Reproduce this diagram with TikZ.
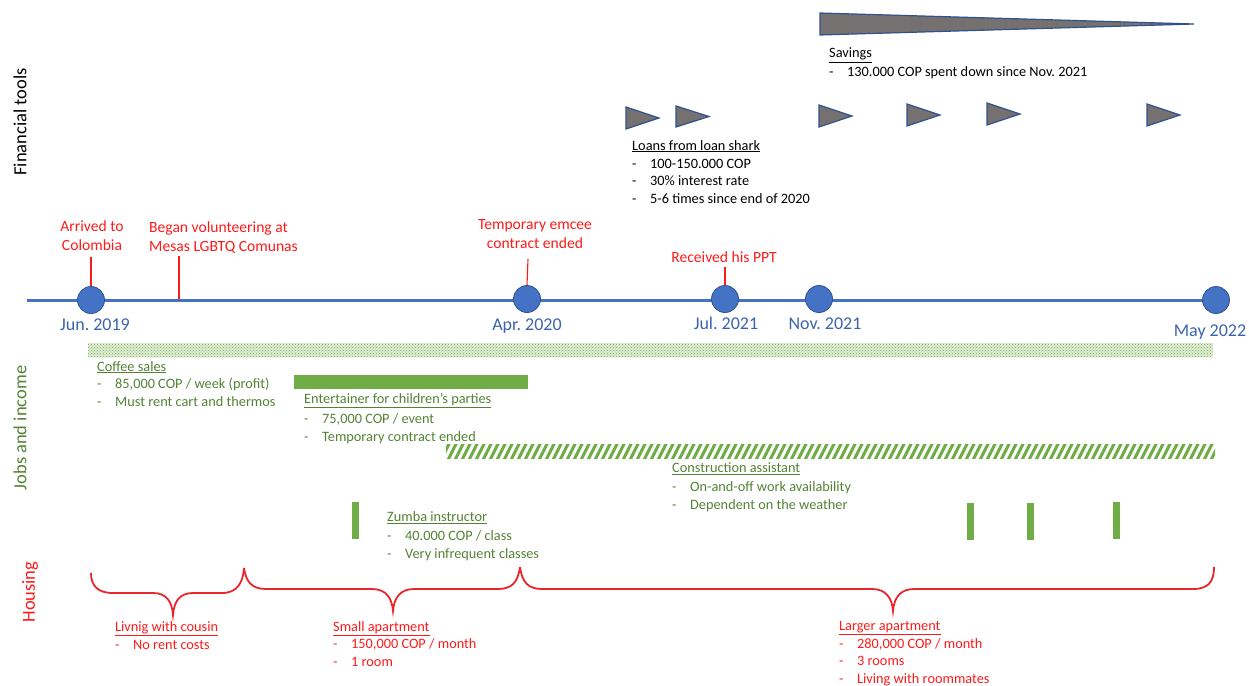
\documentclass[tikz,border=0pt]{standalone}
\usepackage{fontspec}
\setmainfont{Carlito}
\usetikzlibrary{patterns}
\definecolor{tlblue}{HTML}{4472C4}
\definecolor{dkblue}{HTML}{2F528F}
\definecolor{datblue}{HTML}{3B64AD}
\definecolor{ered}{HTML}{FF1A1A}
\definecolor{hred}{HTML}{E8262B}
\definecolor{gtext}{HTML}{548235}
\definecolor{gbar}{HTML}{70AD47}
\definecolor{sgray}{HTML}{767171}
\newcommand\lsitem[1]{\makebox[18pt][l]{-}#1}
\frenchspacing
\begin{document}
\begin{tikzpicture}[x=1pt,y=-1pt,
  lbl/.style={inner sep=0, anchor=base west, align=left, font=\fontsize{14.3}{17.5}\selectfont},
  evt/.style={inner sep=0, anchor=base, align=center, text=ered, font=\fontsize{15.6}{19}\selectfont},
  datelbl/.style={inner sep=0, anchor=base, text=datblue, font=\fontsize{18}{21}\selectfont},
  tdot/.style={circle, fill=tlblue, draw=dkblue, line width=0.8pt, minimum size=27pt, inner sep=0},
  axislbl/.style={rotate=90, inner sep=0, font=\fontsize{18.5}{21}\selectfont},
  loan/.style={fill=sgray, draw=dkblue, line width=1.2pt, line join=miter},
  tickline/.style={draw=ered, line width=1.1pt},
  bracep/.style={draw=hred, line width=1.8pt},
  gbarsolid/.style={fill=gbar, draw=none}]
\useasboundingbox (0,0) rectangle (1249,685);

% axis labels
\node[axislbl] (axfin) at (20,122) {Financial tools};
\node[axislbl, text=gtext] (axjob) at (20,428) {Jobs and income};
\node[axislbl, text=ered] (axhou) at (30,592) {Housing};

% savings wedge
\draw[loan] (820,13) -- (1194,24) -- (820,35) -- cycle;
\node[lbl] (sav) at (829,77) {\underline{Savings}\\[1.5pt]\lsitem{130.000 COP spent down since Nov. 2021}};

% loan triangles
\foreach \lx/\ty/\by in {626/107/129, 676/106/127, 819/105/127, 907/104/126, 987/103/125, 1147/104/126}{
  \draw[loan] (\lx,\ty) -- (\lx+33,{(\ty+\by)/2}) -- (\lx,\by) -- cycle;
}
\node[lbl] (loans) at (632,203) {\underline{Loans from loan shark}\\[0.5pt]\lsitem{100-150.000 COP}\\\lsitem{30\% interest rate}\\\lsitem{5-6 times since end of 2020}};

% timeline
\coordinate (tls) at (27,300);
\coordinate (tle) at (1215,300);
\draw[tlblue, line width=3pt] (tls) -- (tle);
\node[tdot] (c1) at (91,300) {};
\node[tdot] (c2) at (527,299) {};
\node[tdot] (c3) at (725,299) {};
\node[tdot] (c4) at (819,299) {};
\node[tdot] (c5) at (1216,300) {};

% event ticks
\coordinate (t1) at (91,257);
\coordinate (v0) at (179,299);
\coordinate (v1) at (179,256);
\coordinate (t2) at (528,259);
\coordinate (t3) at (725,267);
\draw[tickline] (c1.north) -- (t1);
\draw[tickline] (v0) -- (v1);
\draw[tickline] (c2.north) -- (t2);
\draw[tickline] (c3.north) -- (t3);

\node[evt] (e1) at (92,250) {Arrived to\\Colombia};
\node[evt, anchor=base west, align=left] (e2) at (149,251) {Began volunteering at\\Mesas LGBTQ Comunas};
\node[evt] (e3) at (535,248) {Temporary emcee\\contract ended};
\node[evt] (e4) at (724,262) {Received his PPT};

\node[datelbl] (d1) at (95,330) {Jun. 2019};
\node[datelbl] (d2) at (527,330) {Apr. 2020};
\node[datelbl] (d3) at (726,329) {Jul. 2021};
\node[datelbl] (d4) at (825,329) {Nov. 2021};
\node[datelbl] (d5) at (1210,336) {May 2022};

% jobs
\fill[gbar!22] (88,343) rectangle (1213,357);
\fill[pattern=crosshatch dots, pattern color=gbar] (88,343) rectangle (1213,357);
\node[lbl, text=gtext] (coffee) at (97,406) {\underline{Coffee sales}\\[0pt]\lsitem{85,000 COP / week (profit)}\\\lsitem{Must rent cart and thermos}};

\fill[gbarsolid] (294,375) rectangle (528,389);
\node[lbl, text=gtext] (ent) at (304,441) {\underline{Entertainer for children’s parties}\\[2.5pt]\lsitem{75,000 COP / event}\\\lsitem{Temporary contract ended}};

\begin{scope}
  \clip (446,444) rectangle (1215,458);
  \foreach \i in {434,441,...,1222}{
    \draw[gbar, line width=3pt] (\i,460) -- (\i+9,442);
  }
\end{scope}
\node[lbl, text=gtext] (cons) at (672,509) {\underline{Construction assistant}\\[1.5pt]\lsitem{On-and-off work availability}\\\lsitem{Dependent on the weather}};

\fill[gbarsolid] (352,502) rectangle (359,539);
\fill[gbarsolid] (967,503) rectangle (974,540);
\fill[gbarsolid] (1027,503) rectangle (1034,540);
\fill[gbarsolid] (1113,502) rectangle (1120,539);
\node[lbl, text=gtext] (zumba) at (387,558) {\underline{Zumba instructor}\\[1.5pt]\lsitem{40.000 COP / class}\\\lsitem{Very infrequent classes}};

% housing braces
\draw[bracep] (91,573) .. controls (91,586) and (98,593) .. (113,593) -- (153,593)
  .. controls (166,593) and (172,601) .. (173,615)
  .. controls (174,601) and (180,593) .. (193,593) -- (222,593)
  .. controls (237,593) and (243,583) .. (244,568);
\draw[bracep] (244,568) .. controls (246,582) and (252,589) .. (266,589) -- (372,589)
  .. controls (386,589) and (392,598) .. (393,611)
  .. controls (394,598) and (400,589) .. (414,589) -- (498,589)
  .. controls (512,589) and (518,582) .. (520,567);
\draw[bracep] (520,567) .. controls (522,582) and (528,589) .. (542,589) -- (872,589)
  .. controls (886,589) and (892,598) .. (893,611)
  .. controls (894,598) and (900,589) .. (914,589) -- (1193,589)
  .. controls (1208,589) and (1214,582) .. (1214,567);

\node[lbl, text=ered] (h1) at (115,649) {\underline{Livnig with cousin}\\\lsitem{No rent costs}};
\node[lbl, text=ered] (h2) at (333,666) {\underline{Small apartment}\\\lsitem{150,000 COP / month}\\\lsitem{1 room}};
\node[lbl, text=ered] (h3) at (839,683) {\underline{Larger apartment}\\\lsitem{280,000 COP / month}\\\lsitem{3 rooms}\\\lsitem{Living with roommates}};
\end{tikzpicture}
\end{document}
